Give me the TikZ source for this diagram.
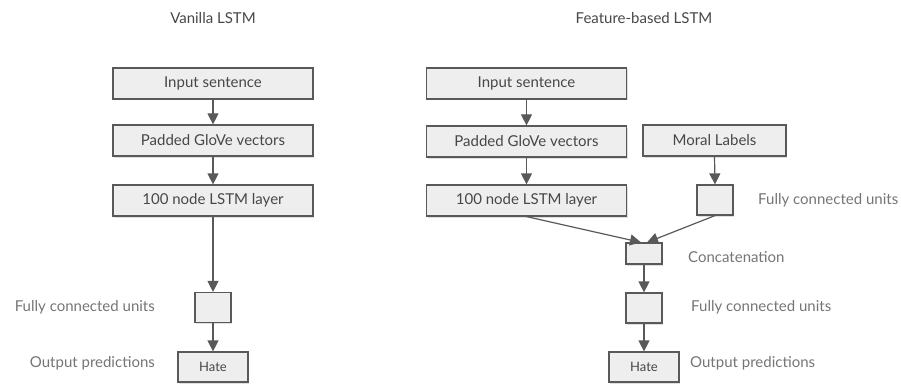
\documentclass[tikz,border=0pt]{standalone}
\usepackage{fontspec}
\setmainfont{Lato}
\usepackage{tikz}
\usetikzlibrary{arrows.meta,shadows,positioning}

\definecolor{boxfill}{HTML}{EEEEEE}
\definecolor{boxline}{HTML}{595959}
\definecolor{boxtext}{HTML}{474747}
\definecolor{notetext}{HTML}{757575}

\begin{document}
\begin{tikzpicture}[x=1pt,y=1pt,>={Triangle[width=11pt,length=11pt]},node distance=58pt,
  line width=1.2pt,
  layer node/.style={rectangle,draw=boxline,fill=boxfill,minimum width=200pt,minimum height=31pt,
    font=\fontsize{15}{18}\selectfont,text=boxtext,
    drop shadow={shadow xshift=1pt,shadow yshift=-1.5pt,opacity=0.25}},
  unit node/.style={layer node,minimum width=36pt,minimum height=30pt},
  out node/.style={layer node,minimum width=70pt,minimum height=30pt,font=\fontsize{13}{16}\selectfont},
  note/.style={font=\fontsize{15}{18}\selectfont,text=notetext,inner sep=0pt},
  title/.style={font=\fontsize{15}{18}\selectfont,text=boxtext}]
  \useasboundingbox (0,0) rectangle (901,-385);

  % vanilla
  \node[title] (tA) at (213,-18) {Vanilla LSTM};
  \node[layer node] (inA) at (213,-83.5) {Input sentence};
  \node[layer node] (padA) [below of=inA, node distance=57pt] {Padded GloVe vectors};
  \node[layer node] (lstmA) [below of=padA, node distance=60pt] {100 node LSTM layer};
  \node[unit node] (fcA) [below of=lstmA, node distance=107pt] {};
  \node[out node] (hateA) [below of=fcA, node distance=59.5pt] {Hate};
  \node[note] (fcAtext) [left=39pt of fcA] {Fully connected units};
  \node[note] (outAtext) [left=22pt of hateA, yshift=4pt] {Output predictions};

  % feature-based
  \node[title] (tB) at (644,-18) {Feature-based LSTM};
  \node[layer node] (inB) at (526.5,-83.5) {Input sentence};
  \node[layer node] (padB) [below of=inB] {Padded GloVe vectors};
  \node[layer node] (lstmB) [below of=padB, node distance=59pt] {100 node LSTM layer};
  \node[layer node, minimum width=143pt] (moralB) at (714.5,-140.5) {Moral Labels};
  \node[unit node] (fcB) at (715,-200) {};
  \node[unit node, minimum height=21pt] (catB) at (644,-253.5) {};
  \node[unit node] (fc2B) [below of=catB, node distance=54.5pt] {};
  \node[out node] (hateB) [below of=fc2B, node distance=59pt] {Hate};
  \node[note] (fcBtext) [right=24pt of fcB] {Fully connected units};
  \node[note] (catBtext) [right=25pt of catB, yshift=-4pt] {Concatenation};
  \node[note] (fc2Btext) [right=28pt of fc2B, yshift=1pt] {Fully connected units};
  \node[note] (outBtext) [right=10pt of hateB, yshift=4pt] {Output predictions};

  \path[color=boxline,every edge/.style={draw,->}]
    (inA.south) edge (padA.north)
    (padA.south) edge (lstmA.north)
    (lstmA.south) edge (fcA.north)
    (fcA.south) edge (hateA.north)
    (inB.south) edge (padB.north)
    (padB.south) edge (lstmB.north)
    (moralB.south) edge (fcB.north)
    (lstmB.south) edge ([xshift=-3pt]catB.north)
    (fcB.south) edge ([xshift=3pt]catB.north)
    (catB.south) edge (fc2B.north)
    (fc2B.south) edge (hateB.north);
\end{tikzpicture}
\end{document}
